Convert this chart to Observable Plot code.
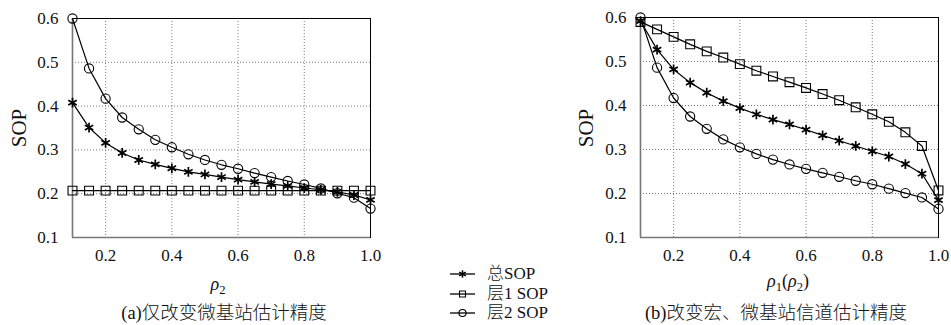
<!DOCTYPE html>
<html>
<head>
<meta charset="utf-8">
<script src="https://cdn.jsdelivr.net/npm/d3@7"></script>
<script src="https://cdn.jsdelivr.net/npm/@observablehq/plot@0.6"></script>
<style>
  html, body { margin: 0; padding: 0; background: #fff; }
  #root { position: relative; width: 951px; height: 325px; overflow: hidden; font-family: "Liberation Serif", serif; color: #111; }
  #root svg, #root svg text { font-family: "Liberation Serif", serif !important; }
  #root svg g[aria-label$="tick label"] text, #root svg g[aria-label$="tick label"] { font-size: 17px !important; }
  .abs { position: absolute; white-space: nowrap; line-height: 1; }
  .cap { font-size: 18.5px; transform: translateX(-50%); }
  .cjk { font-family: "Liberation Serif", "Noto Sans CJK SC", sans-serif; font-weight: 300; }
  .xl { font-size: 18px; transform: translateX(-50%); }
  .yl { font-size: 21px; transform: translate(-50%, -50%) rotate(-90deg); }
  .leg { font-size: 17px; }
  sub { font-size: 70%; vertical-align: -0.3em; line-height: 0; }
</style>
</head>
<body>
<div id="root"></div>
<script>
// ---- data ----
const xs = [0.1, 0.15, 0.2, 0.25, 0.3, 0.35, 0.4, 0.45, 0.5, 0.55, 0.6, 0.65, 0.7, 0.75, 0.8, 0.85, 0.9, 0.95, 1.0];
const seriesNames = ["总SOP", "层1 SOP", "层2 SOP"];
const seriesSymbols = ["asterisk", "square", "circle"];

// (a) only micro base station estimation accuracy varies
const aTotal = [0.408, 0.351, 0.316, 0.293, 0.277, 0.267, 0.258, 0.250, 0.244, 0.238, 0.232, 0.227, 0.222, 0.218, 0.213, 0.209, 0.204, 0.197, 0.186];
const aLayer1 = [0.207, 0.207, 0.207, 0.207, 0.207, 0.207, 0.207, 0.207, 0.207, 0.207, 0.207, 0.207, 0.207, 0.207, 0.207, 0.207, 0.207, 0.207, 0.207];
const aLayer2 = [0.600, 0.486, 0.417, 0.374, 0.347, 0.323, 0.306, 0.290, 0.277, 0.266, 0.257, 0.247, 0.238, 0.229, 0.221, 0.212, 0.201, 0.191, 0.166];

// (b) macro and micro channel estimation accuracy vary
const bTotal = [0.592, 0.527, 0.482, 0.452, 0.429, 0.410, 0.394, 0.380, 0.368, 0.357, 0.345, 0.332, 0.320, 0.308, 0.296, 0.284, 0.267, 0.245, 0.185];
const bLayer1 = [0.590, 0.573, 0.556, 0.539, 0.523, 0.509, 0.494, 0.479, 0.466, 0.453, 0.440, 0.426, 0.412, 0.396, 0.380, 0.363, 0.339, 0.308, 0.207];
const bLayer2 = [0.600, 0.486, 0.417, 0.375, 0.347, 0.323, 0.305, 0.290, 0.277, 0.266, 0.256, 0.247, 0.238, 0.229, 0.221, 0.211, 0.201, 0.191, 0.165];

const xTicks = [0.2, 0.4, 0.6, 0.8, 1.0];
const yTicks = [0.1, 0.2, 0.3, 0.4, 0.5, 0.6];
const xGrid = [0.2, 0.4, 0.6, 0.8];
const yGrid = [0.2, 0.3, 0.4, 0.5];

function rows(arrs) {
  const out = [];
  arrs.forEach((arr, s) => arr.forEach((v, i) => out.push({x: xs[i], y: v, s})));
  return out;
}

function panel(arrs, opts) {
  const data = rows(arrs);
  const marks = [
    Plot.gridX(xGrid, {stroke: "#555", strokeOpacity: 1, strokeWidth: 0.8, strokeDasharray: "1,2"}),
    Plot.gridY(yGrid, {stroke: "#555", strokeOpacity: 1, strokeWidth: 0.8, strokeDasharray: "1,2"}),
    Plot.frame({stroke: "#000", strokeWidth: 1}),
    Plot.ruleX([0.1], {stroke: "#777", strokeWidth: 1.6}),
    Plot.ruleY([0.1], {stroke: "#777", strokeWidth: 1.6}),
    Plot.axisX(xTicks, {tickSize: 0, tickPadding: 11, tickFormat: d3.format(".1f"), fontSize: 17, label: null}),
    Plot.axisY(yTicks, {tickSize: 0, tickPadding: 14, tickFormat: d3.format(".1f"), fontSize: 17, label: null}),
  ];
  [0, 1, 2].forEach(s => {
    const d = data.filter(r => r.s === s);
    marks.push(Plot.line(d, {x: "x", y: "y", stroke: "#000", strokeWidth: 1.2}));
    marks.push(Plot.dot(d, {x: "x", y: "y", symbol: () => seriesSymbols[s], r: s === 1 ? 5 : (s === 0 ? 4.6 : 4.6), stroke: "#000", strokeWidth: s === 0 ? 1.7 : 1.1, fill: "none"}));
  });
  return Plot.plot({
    width: opts.width, height: 270,
    marginLeft: 72, marginRight: opts.marginRight, marginTop: opts.marginTop, marginBottom: 33,
    style: {fontFamily: "'Liberation Serif', serif", fontSize: "17px", color: "#111", background: "transparent", overflow: "visible"},
    x: {domain: [0.1, 1.0]},
    y: {domain: [0.1, 0.6]},
    symbol: {type: "identity"},
    marks
  });
}

const root = document.getElementById("root");

const left = panel([aTotal, aLayer1, aLayer2], {width: 390, marginRight: 20, marginTop: 18});
left.style.position = "absolute"; left.style.left = "0px"; left.style.top = "0px";
root.appendChild(left);

const right = panel([bTotal, bLayer1, bLayer2], {width: 383, marginRight: 13, marginTop: 17});
right.style.position = "absolute"; right.style.left = "568px"; right.style.top = "0px";
root.appendChild(right);

function addText(html, cls, left, top) {
  const el = document.createElement("div");
  el.className = "abs " + cls;
  el.innerHTML = html;
  el.style.left = left + "px";
  el.style.top = top + "px";
  root.appendChild(el);
  return el;
}

addText("SOP", "yl", 18.5, 128);
addText("SOP", "yl", 586, 128);
addText("<i>ρ</i><sub>2</sub>", "xl", 218, 275);
addText("<i>ρ</i><sub>1</sub>(<i>ρ</i><sub>2</sub>)", "xl", 788, 272);
addText("(a)<span class='cjk'>仅改变微基站估计精度</span>", "cap", 224, 304);
addText("(b)<span class='cjk'>改变宏、微基站信道估计精度</span>", "cap", 776, 304);

// legend
const legY = [274, 294, 313];
const legSvg = d3.create("svg").attr("width", 40).attr("height", 60)
  .style("position", "absolute").style("left", "445px").style("top", "264px");
seriesNames.forEach((name, i) => {
  const cy = legY[i] - 264;
  legSvg.append("line").attr("x1", 5).attr("x2", 30).attr("y1", cy).attr("y2", cy).attr("stroke", "#000").attr("stroke-width", 1.3);
  const sym = {asterisk: d3.symbolAsterisk, square: d3.symbolSquare, circle: d3.symbolCircle}[seriesSymbols[i]];
  const sz = seriesSymbols[i] === "asterisk" ? 40 : (seriesSymbols[i] === "square" ? 36 : 40);
  legSvg.append("path").attr("d", d3.symbol(sym, sz)()).attr("transform", `translate(17.5,${cy})`)
    .attr("fill", "none").attr("stroke", "#000").attr("stroke-width", seriesSymbols[i] === "asterisk" ? 1.5 : 1.1);
  const label = name.replace(/^(\S)/, "<span class='cjk'>$1</span>");
  addText(label, "leg", 487, legY[i] - 9);
});
root.appendChild(legSvg.node());
</script>
</body>
</html>
